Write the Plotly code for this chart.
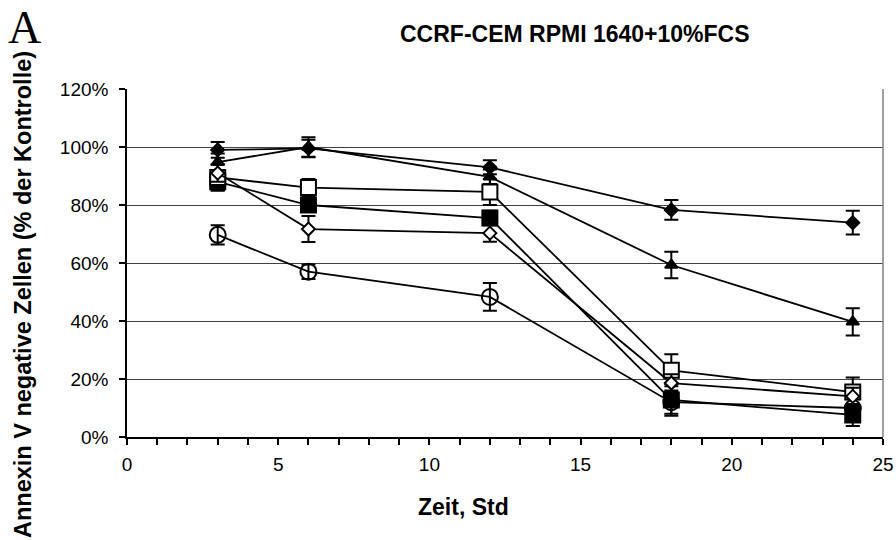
import plotly.graph_objects as go

hours = [3, 6, 12, 18, 24]

# series values (% of control) and error bars
circle_vals = [69.7, 57.0, 48.3, 12.0, 10.0]
circle_err = [3.3, 2.5, 4.8, 4.0, 3.0]
fdiamond_vals = [99.0, 99.5, 93.0, 78.3, 73.9]
fdiamond_err = [2.7, 3.0, 2.4, 3.4, 4.1]
triangle_vals = [94.8, 100.0, 89.7, 59.3, 39.7]
triangle_err = [3.0, 3.4, 2.5, 4.6, 4.7]
fsquare_vals = [88.0, 80.0, 75.5, 12.8, 7.6]
fsquare_err = [3.0, 2.0, 2.5, 5.5, 3.8]
osquare_vals = [89.5, 86.0, 84.5, 23.0, 15.5]
osquare_err = [4.5, 3.0, 4.5, 5.5, 5.0]
odiamond_vals = [91.0, 71.7, 70.3, 18.6, 14.0]
odiamond_err = [3.0, 4.5, 3.0, 3.0, 3.0]

y_ticks = [0, 20, 40, 60, 80, 100, 120]
y_ticklabels = ["0%", "20%", "40%", "60%", "80%", "100%", "120%"]
x_ticks = [0, 5, 10, 15, 20, 25]

title_text = "CCRF-CEM RPMI 1640+10%FCS"
x_title = "Zeit, Std"
y_title = "Annexin V negative Zellen (% der Kontrolle)"
panel_label = "A"

series = [
    (circle_vals, circle_err, "circle-open", 16, "black"),
    (fdiamond_vals, fdiamond_err, "diamond", 10, "black"),
    (triangle_vals, triangle_err, "triangle-up", 11, "black"),
    (fsquare_vals, fsquare_err, "square", 15, "black"),
    (osquare_vals, osquare_err, "square", 15, "white"),
    (odiamond_vals, odiamond_err, "diamond", 10, "white"),
]

fig = go.Figure()
for vals, err, sym, size, fill in series:
    fig.add_trace(go.Scatter(
        x=hours, y=vals, mode="lines+markers",
        line=dict(color="black", width=1.8),
        marker=dict(symbol=sym, size=size, color=fill,
                    line=dict(color="black", width=2)),
        error_y=dict(type="data", array=err, visible=True,
                     color="black", thickness=2, width=7),
        showlegend=False, cliponaxis=False,
    ))

font_sans = "Liberation Sans, Arial, sans-serif"

fig.update_layout(
    width=896, height=540,
    margin=dict(l=127, r=13, t=89, b=103, autoexpand=False),
    paper_bgcolor="white", plot_bgcolor="white",
    font=dict(family=font_sans, color="black", size=19),
    xaxis=dict(
        range=[0, 25], tickvals=x_ticks, ticks="outside", ticklen=6,
        tickwidth=1.5, tickcolor="black", showline=True, linecolor="black",
        linewidth=1.5, showgrid=False, zeroline=False, automargin=False,
        tickfont=dict(size=19, family=font_sans), ticklabelstandoff=3,
        minor=dict(dtick=1, ticks="outside", ticklen=6, tickwidth=1.5,
                   tickcolor="black", showgrid=False),
    ),
    yaxis=dict(
        range=[0, 120], tickvals=y_ticks, ticktext=y_ticklabels,
        ticks="outside", ticklen=6, tickwidth=1.5, tickcolor="black",
        showline=True, linecolor="black", linewidth=1.5, automargin=False,
        showgrid=True, gridcolor="#404040", gridwidth=1, zeroline=False,
        tickfont=dict(size=19, family=font_sans), ticklabelstandoff=7,
    ),
    shapes=[
        dict(type="line", xref="paper", yref="paper", x0=1, x1=1, y0=0, y1=1,
             line=dict(color="#808080", width=1.5)),
    ],
    annotations=[
        dict(text="<b>" + title_text + "</b>", xref="paper", yref="paper",
             x=(575 - 127) / 756, y=(437 - 34) / 348, xanchor="center",
             yanchor="middle", showarrow=False,
             font=dict(size=23, family=font_sans)),
        dict(text="<b>" + x_title + "</b>", xref="paper", yref="paper",
             x=(463 - 127) / 756, y=(437 - 507) / 348, xanchor="center",
             yanchor="middle", showarrow=False,
             font=dict(size=23, family=font_sans)),
        dict(text="<b>" + y_title + "</b>", xref="paper", yref="paper",
             x=(23 - 127) / 756, y=(437 - 295) / 348, xanchor="center",
             yanchor="middle", showarrow=False, textangle=-90,
             font=dict(size=23.5, family=font_sans)),
        dict(text=panel_label, xref="paper", yref="paper",
             x=(24 - 127) / 756, y=(437 - 28) / 348, xanchor="center",
             yanchor="middle", showarrow=False,
             font=dict(size=46, family="Liberation Serif, Times New Roman, serif")),
    ],
)

fig.write_html("out.html")
